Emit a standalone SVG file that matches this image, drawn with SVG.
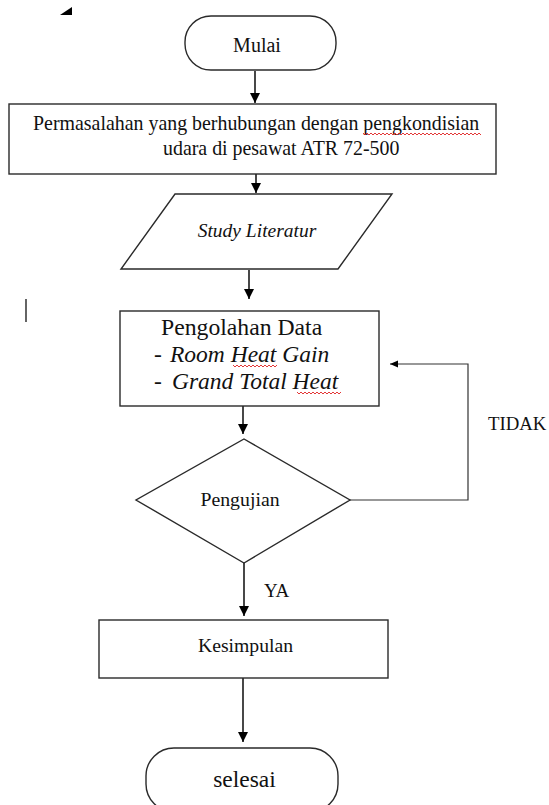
<svg xmlns="http://www.w3.org/2000/svg" width="549" height="805" viewBox="0 0 549 805">
<defs>
<style>
.shape{fill:#fff;stroke:#2a2a2a;stroke-width:1.4}
.t{font-family:"Liberation Serif","Times New Roman",serif;fill:#111}
.ln{stroke:#1a1a1a;stroke-width:1.6;fill:none}
.thin{stroke:#333;stroke-width:1.2;fill:none}
.sq{stroke:#e02020;stroke-width:0.9;fill:none}
</style>
<marker id="ah" markerUnits="userSpaceOnUse" markerWidth="10" markerHeight="12" refX="10" refY="5" orient="auto">
<path d="M0,0 L10,5 L0,10 Z" fill="#000"/>
</marker>
<marker id="ahs" markerUnits="userSpaceOnUse" markerWidth="8" markerHeight="8" refX="8" refY="3.5" orient="auto">
<path d="M0,0 L8,3.5 L0,7 Z" fill="#000"/>
</marker>
</defs>
<rect width="549" height="805" fill="#fff"/>
<polygon points="60,15 72,15 72,7" fill="#000"/>
<line x1="26" y1="299" x2="26" y2="322" stroke="#111" stroke-width="1.3"/>

<g id="connectors">
<line x1="255" y1="71" x2="255" y2="103" class="ln" stroke="#777" marker-end="url(#ah)"/>
<line x1="256" y1="174" x2="256" y2="193" class="ln" marker-end="url(#ah)"/>
<line x1="249" y1="270" x2="249" y2="299" class="ln" marker-end="url(#ah)"/>
<line x1="243" y1="406" x2="243" y2="434" class="ln" marker-end="url(#ah)"/>
<line x1="244" y1="563" x2="244" y2="616" class="ln" marker-end="url(#ah)"/>
<line x1="243" y1="678" x2="243" y2="742" class="ln" marker-end="url(#ah)"/>
<polyline points="350,500 468,500 468,364 390,364" class="thin" marker-end="url(#ahs)"/>
<text x="488" y="430" class="t" font-size="18.8">TIDAK</text>
<text x="264" y="597" class="t" font-size="19">YA</text>
</g>

<g id="mulai">
<rect x="185" y="16" width="151" height="54" rx="26" ry="26" class="shape"/>
<text x="257" y="52" class="t" font-size="20" text-anchor="middle">Mulai</text>
</g>

<g id="permasalahan">
<rect x="9" y="104" width="487" height="70" class="shape"/>
<text x="33" y="130" class="t" font-size="19.9">Permasalahan yang berhubungan dengan pengkondisian</text>
<text x="163" y="155" class="t" font-size="19.9">udara di pesawat ATR 72-500</text>
<path d="M363,133 l2,2 l2,-2 l2,2 l2,-2 l2,2 l2,-2 l2,2 l2,-2 l2,2 l2,-2 l2,2 l2,-2 l2,2 l2,-2 l2,2 l2,-2 l2,2 l2,-2 l2,2 l2,-2 l2,2 l2,-2 l2,2 l2,-2 l2,2 l2,-2 l2,2 l2,-2 l2,2 l2,-2 l2,2 l2,-2 l2,2 l2,-2 l2,2 l2,-2 l2,2 l2,-2 l2,2 l2,-2 l2,2 l2,-2 l2,2 l2,-2 l2,2 l2,-2 l2,2 l2,-2 l2,2 l2,-2 l2,2 l2,-2 l2,2 l2,-2 l2,2 l2,-2 l2,2 l2,-2 l2,2" class="sq"/>
</g>

<g id="study">
<polygon points="175,194 392,194 338,269 121,269" class="shape"/>
<text x="257" y="237" class="t" font-size="19.5" font-style="italic" text-anchor="middle">Study Literatur</text>
</g>

<g id="pengolahan">
<rect x="120" y="311" width="259" height="95" class="shape"/>
<text x="161" y="335" class="t" font-size="23.7">Pengolahan Data</text>
<text x="154" y="362" class="t" font-size="23.5">- <tspan x="170" font-style="italic">Room Heat Gain</tspan></text>
<text x="154" y="389" class="t" font-size="23.5">- <tspan x="172" font-style="italic">Grand Total Heat</tspan></text>
<path d="M233,365 l2,2 l2,-2 l2,2 l2,-2 l2,2 l2,-2 l2,2 l2,-2 l2,2 l2,-2 l2,2 l2,-2 l2,2 l2,-2 l2,2 l2,-2 l2,2 l2,-2 l2,2 l2,-2 l2,2 l2,-2" class="sq"/>
<path d="M297,392 l2,2 l2,-2 l2,2 l2,-2 l2,2 l2,-2 l2,2 l2,-2 l2,2 l2,-2 l2,2 l2,-2 l2,2 l2,-2 l2,2 l2,-2 l2,2 l2,-2 l2,2 l2,-2 l2,2 l2,-2" class="sq"/>
</g>

<g id="pengujian">
<polygon points="244,439 350,500 244,563 136,500" class="shape"/>
<text x="240" y="506" class="t" font-size="19.8" text-anchor="middle">Pengujian</text>
</g>

<g id="kesimpulan">
<rect x="99" y="620" width="289" height="58" class="shape"/>
<text x="245.5" y="652" class="t" font-size="19.7" text-anchor="middle">Kesimpulan</text>
</g>

<g id="selesai">
<rect x="146" y="748" width="192" height="64" rx="28" ry="28" class="shape"/>
<text x="244.5" y="787" class="t" font-size="23.5" text-anchor="middle">selesai</text>
</g>
</svg>
